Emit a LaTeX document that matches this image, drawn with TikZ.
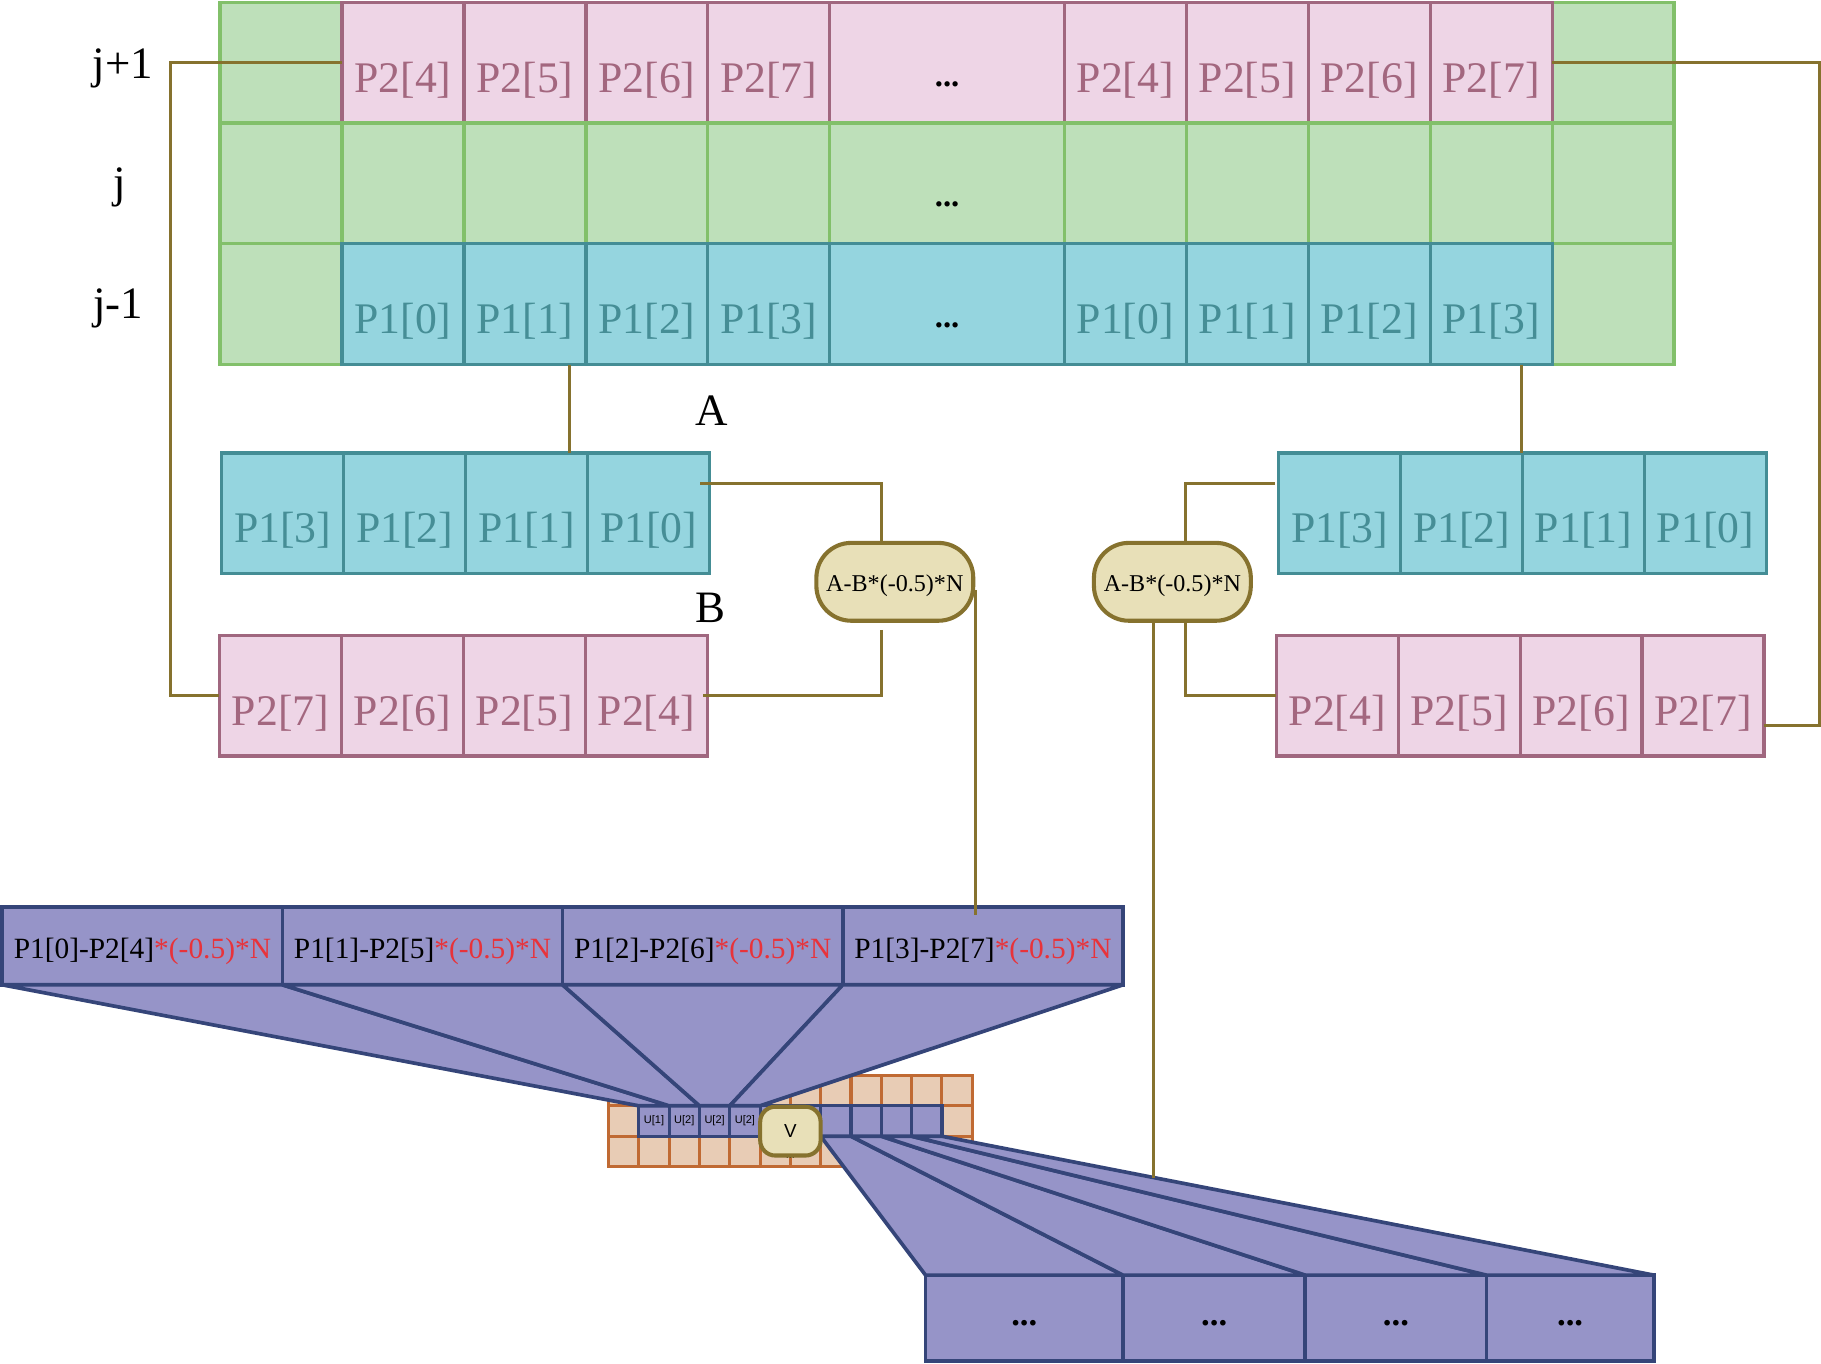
\documentclass[tikz,border=0pt]{standalone}
\usepackage{fontspec}
\setmainfont{Liberation Serif}
\newfontfamily\labelsans{Liberation Sans}
\usetikzlibrary{positioning,calc}

\definecolor{grnfill}{HTML}{BEE0BA}
\definecolor{grnline}{HTML}{82C06A}
\definecolor{pnkfill}{HTML}{EED5E6}
\definecolor{pnkline}{HTML}{A0677F}
\definecolor{pnktext}{HTML}{A3677F}
\definecolor{cynfill}{HTML}{95D5DF}
\definecolor{cynline}{HTML}{448D95}
\definecolor{cyntext}{HTML}{468E96}
\definecolor{lineol}{HTML}{86722E}
\definecolor{tanfill}{HTML}{E8E0B8}
\definecolor{fanfill}{HTML}{9694C8}
\definecolor{fanline}{HTML}{354579}
\definecolor{orfill}{HTML}{E8CCB5}
\definecolor{orline}{HTML}{C06A33}
\definecolor{redtxt}{HTML}{E8333A}

\tikzset{
  cell/.style={draw, outer sep=0pt, inner sep=0pt, line width=0.8pt,
    minimum width=1.05cm, minimum height=1.04cm,
    font=\fontsize{10.7}{12}\selectfont, text height=14.4pt, text depth=0pt},
  grncell/.style={cell, fill=grnfill, draw=grnline},
  pnkcell/.style={cell, fill=pnkfill, draw=pnkline, text=pnktext},
  cyncell/.style={cell, fill=cynfill, draw=cynline, text=cyntext},
  wide/.style={minimum width=2.02cm, text=black,
    font=\fontsize{8}{9}\selectfont\bfseries, text height=11.5pt},
  rowlbl/.style={font=\fontsize{11}{13}\selectfont, inner sep=0pt},
  pill/.style={draw=lineol, fill=tanfill, line width=1pt, rounded corners=0.3cm,
    minimum width=1.35cm, minimum height=0.67cm, inner sep=0pt,
    font=\fontsize{5.9}{7}\selectfont, text height=4.6pt, text depth=0pt},
  vpill/.style={draw=lineol, fill=tanfill, line width=1pt, rounded corners=0.13cm,
    minimum width=0.52cm, minimum height=0.42cm, inner sep=0pt,
    font=\labelsans\fontsize{4.6}{5}\selectfont},
  conn/.style={draw=lineol, line width=0.75pt},
  midcell/.style={draw=fanline, fill=fanfill, outer sep=0pt, inner sep=0pt, line width=0.9pt,
    minimum width=2.4125cm, minimum height=0.67cm,
    font=\fontsize{7.2}{8}\selectfont, text height=6pt, text depth=0pt},
  botcell/.style={draw=fanline, fill=fanfill, outer sep=0pt, inner sep=0pt, line width=0.9pt,
    minimum height=0.74cm, font=\fontsize{8.5}{9}\selectfont\bfseries,
    text height=3.4pt, text depth=0pt},
  orcell/.style={draw=orline, fill=orfill, outer sep=0pt, line width=0.75pt,
    minimum width=0.261cm, minimum height=0.262cm},
  ucell/.style={draw=fanline, fill=fanfill, outer sep=0pt, inner sep=0pt, line width=0.75pt,
    minimum width=0.261cm, minimum height=0.262cm,
    font=\labelsans\fontsize{2.7}{3}\selectfont},
  fan/.style={draw=fanline, fill=fanfill, line width=0.9pt, line join=round},
}

\begin{document}
\begin{tikzpicture}[x=0.01cm, y=-0.01cm]
\useasboundingbox (0,0) rectangle (1568,1174);

% row labels
\node[rowlbl, anchor=base] (lbl-up) at (106,68) {j+1};
\node[rowlbl, anchor=base] (lbl-mid) at (103,170) {j};
\node[rowlbl, anchor=base] (lbl-dn) at (102,274) {j-1};

% top grid
\foreach \y/\r in {54/a,158/b,262/c} {
  \node[grncell] (gl-\r) at (242,\y) {};
  \node[grncell] (gr-\r) at (1389,\y) {};
}
\foreach \k [count=\i] in {4,5,6,7} {
  \node[pnkcell] (tpl-\i) at (242+105*\i,54) {P2[\k]};
  \node[pnkcell] (tpr-\i) at (864+105*\i,54) {P2[\k]};
  \node[grncell] (tgl-\i) at (242+105*\i,158) {};
  \node[grncell] (tgr-\i) at (864+105*\i,158) {};
}
\foreach \k [count=\i] in {0,1,2,3} {
  \node[cyncell] (tcl-\i) at (242+105*\i,262) {P1[\k]};
  \node[cyncell] (tcr-\i) at (864+105*\i,262) {P1[\k]};
}
\node[pnkcell, wide] (tpm) at (815.5,54) {...};
\node[grncell, wide] (tgm) at (815.5,158) {...};
\node[cyncell, wide] (tcm) at (815.5,262) {...};

% A / B rows
\node[rowlbl, anchor=base] (lbl-a) at (613,366) {A};
\node[rowlbl, anchor=base] (lbl-b) at (612,536) {B};
\foreach \k [count=\i] in {3,2,1,0} {
  \node[cyncell] (lc-\i) at (138.5+105*\i,442) {P1[\k]};
  \node[cyncell] (rc-\i) at (1048.5+105*\i,442) {P1[\k]};
}
\foreach \a/\b [count=\i] in {7/4,6/5,5/6,4/7} {
  \node[pnkcell] (lp-\i) at (136.5+105*\i,599) {P2[\a]};
  \node[pnkcell] (rp-\i) at (1046.5+105*\i,599) {P2[\b]};
}
\node[pill] (lpill) at (770.5,501) {A-B*(-0.5)*N};
\node[pill] (rpill) at (1009.5,501) {A-B*(-0.5)*N};

% small grid
\foreach \c in {0,...,11}
  \foreach \r in {0,1,2}
    \node[orcell] (o-\c-\r) at (537.05+26.1*\c,939.1+26.2*\r) {};
\foreach \k [count=\i] in {1,2,2,2}
  \node[ucell] (u-\i) at (537.05+26.1*\i,965.3) {U[\k]};
\foreach \i in {1,...,4}
  \node[ucell] (v-\i) at (693.65+26.1*\i,965.3) {};
\node[ucell, minimum width=0.522cm] (vband) at (680.6,965.3) {};
\node[font=\labelsans\fontsize{2.7}{3}\selectfont, inner sep=0pt] (vdots) at (680.6,997) {...};

% result rows
\foreach \a/\b [count=\i] in {0/4,1/5,2/6,3/7}
  \node[midcell] (pr-\i) at (122.6+241.25*\i-241.25,814.5)
    {P1[\a]-P2[\b]\textcolor{redtxt}{*(-0.5)*N}};
\foreach \x/\w [count=\i] in {882/1.70,1045.5/1.57,1202/1.56,1352/1.44}
  \node[botcell, minimum width=\w cm] (br-\i) at (\x,1135) {...};

% fans
\foreach \i in {1,...,4} {
  \filldraw[fan] (pr-\i.south west) -- (pr-\i.south east) -- (u-\i.north east) -- (u-\i.north west) -- cycle;
  \filldraw[fan] (v-\i.south west) -- (v-\i.south east) -- (br-\i.north east) -- (br-\i.north west) -- cycle;
}
\node[vpill] (vnode) at (680.6,974) {V};

% connectors
\draw[conn] (tpl-1.west) -- ++(-148,0) |- (lp-1.west);
\draw[conn] (tpr-4.east) -- ++(230,0) |- ([yshift=-0.26cm]rp-4.east);
\draw[conn] ([xshift=0.385cm]tcl-2.south) -- ([xshift=0.385cm]tcl-2.south |- lc-3.north);
\draw[conn] ([xshift=0.26cm]tcr-4.south) -- ([xshift=0.26cm]tcr-4.south |- rc-1.north);
\draw[conn] ([xshift=-0.08cm,yshift=-0.26cm]lc-4.north east) -| ([xshift=-0.115cm]lpill.north);
\draw[conn] ([xshift=-0.115cm,yshift=-0.06cm]lpill.south) |- ([xshift=-0.04cm]lp-4.east);
\draw[conn] ([yshift=-0.07cm]lpill.east) -- ([yshift=-0.07cm]lpill.east |- pr-4.north);
\draw[conn] ([xshift=-0.03cm,yshift=-0.26cm]rc-1.north west) -| ([xshift=0.115cm]rpill.north);
\draw[conn] ([xshift=0.115cm]rpill.south) |- (rp-1.west);
\coordinate (fanhit) at ([xshift=-0.165cm]rpill.south |- 0,1014);
\draw[conn] ([xshift=-0.165cm]rpill.south) -- (fanhit);
\end{tikzpicture}
\end{document}
